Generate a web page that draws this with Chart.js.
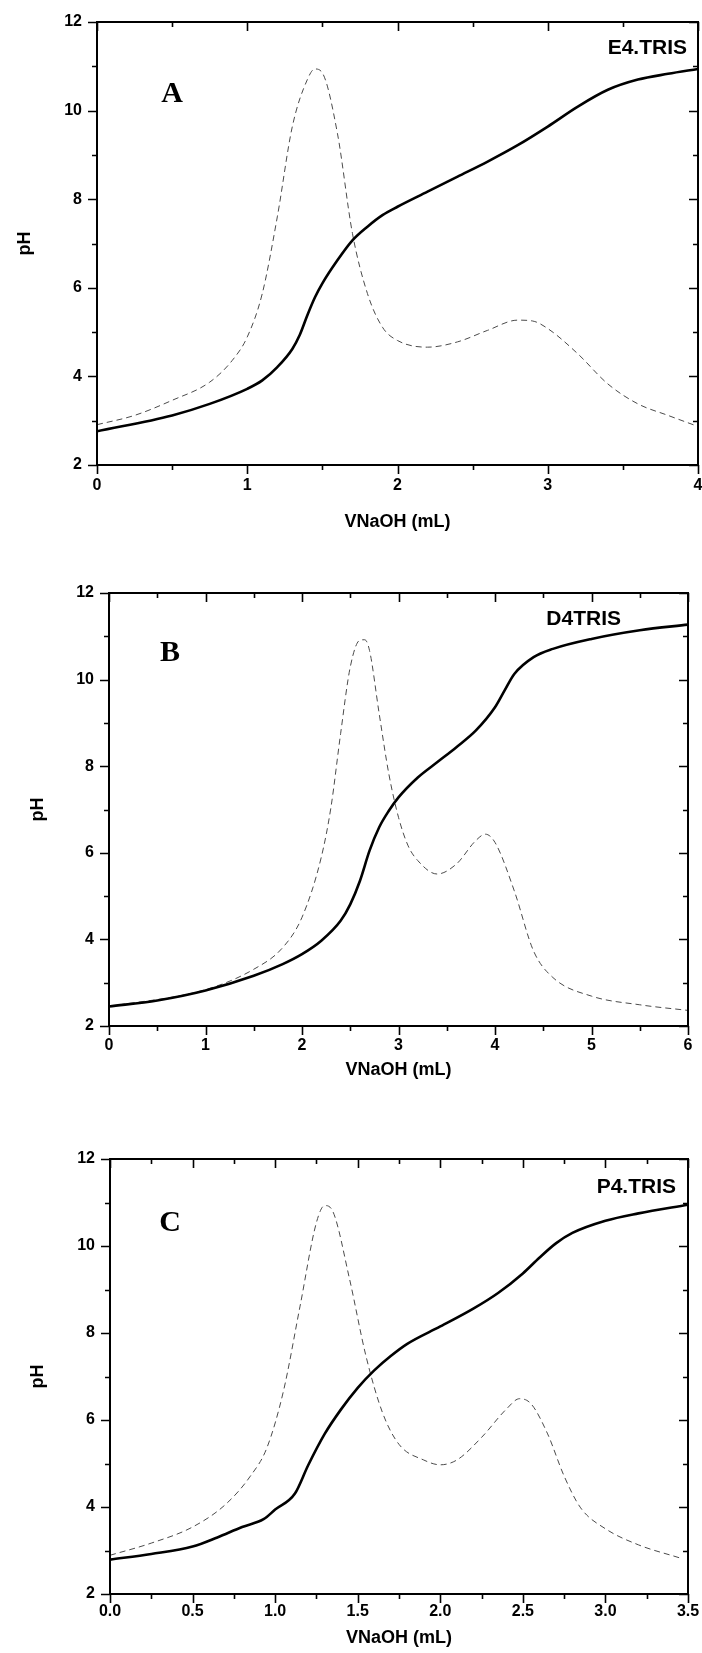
<!DOCTYPE html>
<html>
<head>
<meta charset="utf-8">
<script src="https://cdn.jsdelivr.net/npm/chart.js@4.4.1/dist/chart.umd.min.js"></script>
<style>
    html, body { margin: 0; padding: 0; background: #fff; }
    body { width: 702px; height: 1653px; position: relative; overflow: hidden; }
    canvas { position: absolute; left: 0; }
</style>
</head>
<body>
<canvas id="chartA" width="702" height="540" style="top:0px"></canvas>
<canvas id="chartB" width="702" height="555" style="top:540px"></canvas>
<canvas id="chartC" width="702" height="558" style="top:1095px"></canvas>
<script>
// A - E4.TRIS
const aVol = [0, 0.5, 0.75, 1.0, 1.1, 1.2, 1.3, 1.35, 1.4, 1.45, 1.5, 1.6, 1.7, 1.8, 1.9, 2.0, 2.2, 2.4, 2.6, 2.8, 3.0, 3.2, 3.4, 3.6, 3.8, 4.0];
const aPH = [2.76, 3.12, 3.38, 3.72, 3.91, 4.21, 4.62, 4.94, 5.38, 5.78, 6.1, 6.62, 7.07, 7.38, 7.64, 7.83, 8.17, 8.51, 8.85, 9.22, 9.64, 10.09, 10.47, 10.7, 10.83, 10.94];
const aDerVol = [0, 0.25, 0.5, 0.75, 0.9, 1.0, 1.1, 1.2, 1.3, 1.4, 1.45, 1.5, 1.6, 1.7, 1.8, 1.9, 2.0, 2.2, 2.4, 2.6, 2.8, 2.9, 3.0, 3.2, 3.4, 3.6, 3.8, 4.0];
const aDer = [2.91, 3.12, 3.46, 3.87, 4.36, 4.89, 5.87, 7.6, 9.64, 10.7, 10.94, 10.85, 9.49, 7.23, 5.87, 5.11, 4.81, 4.66, 4.78, 5.04, 5.27, 5.25, 5.08, 4.51, 3.83, 3.38, 3.12, 2.87];

// B - D4TRIS
const bVol = [0, 0.5, 1.0, 1.5, 1.8, 2.0, 2.2, 2.4, 2.5, 2.6, 2.7, 2.8, 2.9, 3.0, 3.2, 3.4, 3.6, 3.8, 4.0, 4.1, 4.2, 4.4, 4.6, 5.0, 5.5, 6.0];
const bPH = [2.45, 2.59, 2.82, 3.16, 3.43, 3.66, 3.97, 4.43, 4.81, 5.35, 6.05, 6.59, 6.97, 7.28, 7.74, 8.09, 8.44, 8.82, 9.36, 9.75, 10.13, 10.52, 10.71, 10.94, 11.14, 11.27];
const bDerVol = [0, 1.0, 1.5, 1.8, 2.0, 2.2, 2.3, 2.4, 2.5, 2.6, 2.65, 2.7, 2.8, 2.9, 3.0, 3.1, 3.2, 3.4, 3.6, 3.8, 3.9, 4.0, 4.2, 4.4, 4.6, 5.0, 5.5, 6.0];
const bDer = [2.45, 2.84, 3.31, 3.81, 4.51, 5.9, 7.05, 8.75, 10.29, 10.91, 10.92, 10.67, 9.21, 7.82, 6.82, 6.16, 5.82, 5.51, 5.74, 6.28, 6.43, 6.24, 5.12, 3.73, 3.12, 2.69, 2.49, 2.36];

// C - P4.TRIS
const cVol = [0, 0.25, 0.5, 0.65, 0.8, 0.93, 1.0, 1.12, 1.2, 1.3, 1.4, 1.5, 1.6, 1.7, 1.8, 2.0, 2.2, 2.35, 2.5, 2.6, 2.7, 2.8, 3.0, 3.2, 3.5];
const cPH = [2.79, 2.92, 3.09, 3.3, 3.54, 3.72, 3.94, 4.31, 4.96, 5.68, 6.25, 6.74, 7.14, 7.47, 7.75, 8.15, 8.56, 8.92, 9.37, 9.73, 10.06, 10.3, 10.58, 10.75, 10.95];
const cDerVol = [0, 0.25, 0.5, 0.7, 0.85, 0.95, 1.05, 1.15, 1.25, 1.3, 1.35, 1.45, 1.55, 1.65, 1.75, 1.9, 2.0, 2.1, 2.25, 2.4, 2.48, 2.55, 2.65, 2.75, 2.85, 3.0, 3.2, 3.45];
const cDer = [2.89, 3.17, 3.54, 4.06, 4.71, 5.36, 6.66, 8.6, 10.54, 10.93, 10.79, 9.25, 7.47, 6.17, 5.44, 5.08, 4.97, 5.08, 5.6, 6.25, 6.49, 6.37, 5.68, 4.71, 3.98, 3.5, 3.13, 2.83];

const phTicks = { min: 2, max: 12, step: 1 };

const frame = {
    id: 'frame',
    afterDraw(chart, args, opts) {
        const ctx = chart.ctx;
        const { left, right, top, bottom } = chart.chartArea;
        const xs = chart.scales.x, ys = chart.scales.y;
        ctx.save();
        ctx.strokeStyle = '#000';
        ctx.lineWidth = 2;
        ctx.strokeRect(left, top, right - left, bottom - top);
        ctx.lineWidth = 1.6;
        ctx.beginPath();
        xs.ticks.forEach(t => {
            const px = Math.round(xs.getPixelForValue(t.value)) + 0.5;
            const len = t.label !== '' ? 9 : 5;
            ctx.moveTo(px, bottom); ctx.lineTo(px, bottom + len);
            ctx.moveTo(px, top); ctx.lineTo(px, top + len);
        });
        ys.ticks.forEach(t => {
            const py = Math.round(ys.getPixelForValue(t.value)) + 0.5;
            const len = t.label !== '' ? 9 : 5;
            ctx.moveTo(left, py); ctx.lineTo(left - len, py);
            ctx.moveTo(right, py); ctx.lineTo(right - len, py);
        });
        ctx.stroke();
        ctx.fillStyle = '#000';
        ctx.textBaseline = 'middle';
        ctx.textAlign = 'center';
        ctx.font = 'bold 30px "Liberation Serif", "Times New Roman", serif';
        ctx.fillText(opts.letter, opts.letterX, opts.letterY);
        ctx.textAlign = 'right';
        ctx.font = 'bold 21px "Liberation Sans", Arial, sans-serif';
        ctx.fillText(opts.tag, opts.tagX, opts.tagY);
        ctx.restore();
    }
};

function makePanel(id, vol, ph, derVol, der, p) {
    const font = { family: '"Liberation Sans", Arial, sans-serif', weight: 'bold' };
    new Chart(document.getElementById(id), {
        type: 'line',
        data: {
            datasets: [
                {
                    data: vol.map((v, i) => ({ x: v, y: ph[i] })),
                    borderColor: '#000',
                    borderWidth: 2.6,
                    pointRadius: 0,
                    cubicInterpolationMode: 'monotone'
                },
                {
                    data: derVol.map((v, i) => ({ x: v, y: der[i] })),
                    borderColor: '#4a4a4a',
                    borderWidth: 1,
                    borderDash: [6, 4],
                    pointRadius: 0,
                    cubicInterpolationMode: 'monotone'
                }
            ]
        },
        plugins: [frame],
        options: {
            responsive: false,
            animation: false,
            events: [],
            layout: { padding: { top: p.padTop, right: p.padRight, left: 0, bottom: 0 } },
            plugins: {
                legend: { display: false },
                tooltip: { enabled: false },
                frame: { letter: p.letter, letterX: p.letterX, letterY: p.letterY, tag: p.tag, tagX: p.tagX, tagY: p.tagY }
            },
            scales: {
                x: {
                    type: 'linear',
                    min: 0,
                    max: p.xMax,
                    afterFit: s => { s.height = p.xHeight; s.paddingLeft = 0; s.paddingRight = 0; },
                    grid: { display: false, drawTicks: false },
                    border: { display: false },
                    ticks: {
                        stepSize: p.xStep,
                        autoSkip: false,
                        maxRotation: 0,
                        padding: p.xPad,
                        color: '#000',
                        font: { ...font, size: 16 },
                        callback: p.xLabel
                    },
                    title: {
                        display: true,
                        text: 'VNaOH (mL)',
                        color: '#000',
                        font: { ...font, size: 18 },
                        padding: { top: 0, bottom: p.xTitlePad }
                    }
                },
                y: {
                    type: 'linear',
                    min: phTicks.min,
                    max: phTicks.max,
                    afterFit: s => { s.width = p.yWidth; s.paddingTop = 0; s.paddingBottom = 0; },
                    grid: { display: false, drawTicks: false },
                    border: { display: false },
                    ticks: {
                        stepSize: phTicks.step,
                        autoSkip: false,
                        padding: 15,
                        color: '#000',
                        font: { ...font, size: 16 },
                        callback: v => (Math.round(v) % 2 === 0 ? String(Math.round(v)) : '')
                    },
                    title: {
                        display: true,
                        text: 'pH',
                        color: '#000',
                        font: { ...font, size: 18 },
                        padding: { top: p.yTitlePad, bottom: 0 }
                    }
                }
            }
        }
    });
}

const intLabel = v => (Math.abs(v - Math.round(v)) < 1e-6 ? String(Math.round(v)) : '');
const halfLabel = v => (Math.abs(v * 2 - Math.round(v * 2)) < 1e-6 ? v.toFixed(1) : '');

makePanel('chartA', aVol, aPH, aDerVol, aDer, {
    xMax: 4, xStep: 0.5, xLabel: intLabel,
    padTop: 22, padRight: 4, yWidth: 97, xHeight: 75, xPad: 11, xTitlePad: 7, yTitlePad: 14,
    letter: 'A', letterX: 172, letterY: 94, tag: 'E4.TRIS', tagX: 687, tagY: 48
});

makePanel('chartB', bVol, bPH, bDerVol, bDer, {
    xMax: 6, xStep: 0.5, xLabel: intLabel,
    padTop: 53, padRight: 14, yWidth: 109, xHeight: 69, xPad: 10, xTitlePad: 14, yTitlePad: 27,
    letter: 'B', letterX: 170, letterY: 113, tag: 'D4TRIS', tagX: 621, tagY: 79
});

makePanel('chartC', cVol, cPH, cDerVol, cDer, {
    xMax: 3.5, xStep: 0.25, xLabel: halfLabel,
    padTop: 64, padRight: 14, yWidth: 110, xHeight: 59, xPad: 8, xTitlePad: 4, yTitlePad: 27,
    letter: 'C', letterX: 170, letterY: 128, tag: 'P4.TRIS', tagX: 676, tagY: 92
});
</script>
</body>
</html>
